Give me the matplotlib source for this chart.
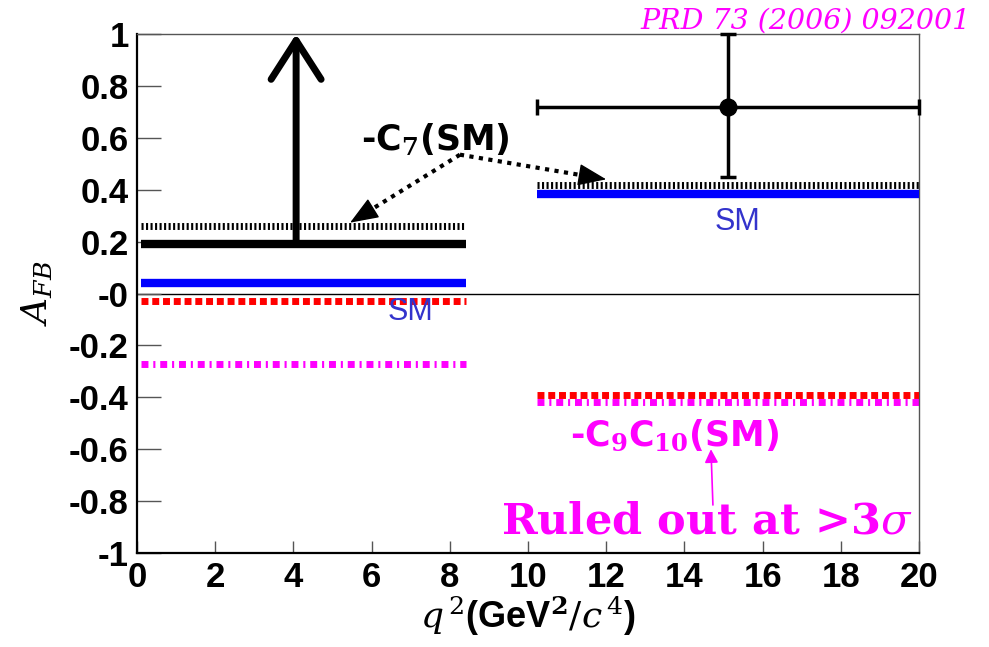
# A_FB in two q^2 bins: measurement vs. SM and flipped-sign Wilson coefficient predictions
import numpy as np
import matplotlib.pyplot as plt

plt.rcParams['mathtext.fontset'] = 'dejavuserif'

# q^2 bins (GeV^2/c^4)
bin_lo = [0.1, 10.24]
bin_hi = [8.41, 20.0]

# model predictions per bin
afb_sm = [0.04, 0.385]           # Standard Model
afb_c7 = [0.26, 0.42]            # -C7 (SM)
afb_c7c9c10 = [-0.03, -0.39]     # -C7 and -C9C10
afb_c9c10 = [-0.27, -0.42]       # -C9C10 (SM)

# measurement
low_limit_x = 4.07               # low bin: lower limit only
low_limit_y = 0.19
meas_x = 15.12                   # high bin
meas_y = 0.72
meas_err_lo = 0.27
meas_err_hi = 0.28

yticks = [1, 0.8, 0.6, 0.4, 0.2, 0, -0.2, -0.4, -0.6, -0.8, -1]
ytick_labels = ['1', '0.8', '0.6', '0.4', '0.2', '-0', '-0.2', '-0.4', '-0.6', '-0.8', '-1']
xticks = [0, 2, 4, 6, 8, 10, 12, 14, 16, 18, 20]

fig = plt.figure(figsize=(9.89, 6.47), dpi=100)
ax = fig.add_axes([0.1385, 0.1453, 0.7907, 0.8021])
ax.set_xlim(0, 20)
ax.set_ylim(-1, 1)

ax.axhline(0, color='black', lw=1.0, zorder=1)

for i in range(2):
    xs = [bin_lo[i], bin_hi[i]]
    ax.plot(xs, [afb_c9c10[i]] * 2, color='#ff00ff', lw=5,
            ls=(0, (1.0, 0.7, 0.3, 0.7)), solid_capstyle='butt', zorder=2)
    ax.plot(xs, [afb_c7c9c10[i]] * 2, color='#ff0000', lw=5,
            ls=(0, (1.0, 0.55)), solid_capstyle='butt', zorder=3)
    ax.plot(xs, [afb_sm[i]] * 2, color='#0000ff', lw=6, solid_capstyle='butt', zorder=3)
    ax.plot(xs, [afb_c7[i]] * 2, color='black', lw=5,
            ls=(0, (0.3, 0.35)), solid_capstyle='butt', zorder=3)

# low bin: lower limit with arrow
ax.plot([bin_lo[0], bin_hi[0]], [low_limit_y] * 2, color='black', lw=6,
        solid_capstyle='butt', zorder=4)
ax.annotate('', xy=(low_limit_x, 1.0), xytext=(low_limit_x, low_limit_y),
            arrowprops=dict(arrowstyle='->,head_length=0.7,head_width=0.45',
                            color='black', lw=5, mutation_scale=40,
                            shrinkA=0, shrinkB=0), annotation_clip=False, zorder=5)

# high bin measurement
half_w = (bin_hi[1] - bin_lo[1]) / 2
ax.errorbar(meas_x, meas_y, xerr=[[half_w], [half_w]], yerr=[[meas_err_lo], [meas_err_hi]],
            fmt='o', color='black', ms=12, elinewidth=2.5, capsize=6, capthick=2.5,
            zorder=5, clip_on=False)

# labels on the curves
ax.text(7.62, 0.593, r'-C$_{\mathbf{7}}$(SM)', fontsize=25, fontweight='bold',
        ha='center', va='center', family='DejaVu Sans')
tail = np.array([8.26, 0.535])
for tip, frac in [((5.45, 0.273), 0.84), ((12.0, 0.44), 0.86)]:
    tip = np.array(tip)
    mid = tail + frac * (tip - tail)
    ax.plot([tail[0], mid[0]], [tail[1], mid[1]], color='black', lw=3, ls=(0, (1, 1.3)))
    ax.annotate('', xy=tip, xytext=mid,
                arrowprops=dict(arrowstyle='-|>,head_length=0.9,head_width=0.35',
                                color='black', lw=1, mutation_scale=20,
                                shrinkA=0, shrinkB=0))

ax.text(7.0, -0.07, 'SM', color='#3333cc', fontsize=22, ha='center', va='center',
        family='Liberation Sans')
ax.text(15.37, 0.277, 'SM', color='#3333cc', fontsize=22, ha='center', va='center',
        family='Liberation Sans')

ax.text(13.76, -0.55, r'-C$_{\mathbf{9}}$C$_{\mathbf{10}}$(SM)', color='#ff00ff',
        fontsize=25, fontweight='bold', ha='center', va='center', family='DejaVu Sans')
ax.annotate('', xy=(14.68, -0.60), xytext=(14.73, -0.815),
            arrowprops=dict(arrowstyle='-|>', color='#ff00ff', lw=1.2,
                            mutation_scale=20, shrinkA=0, shrinkB=0))
ax.text(14.58, -0.88, r'Ruled out at >3$\sigma$', color='#ff00ff', fontsize=31,
        fontweight='bold', ha='center', va='center', family='DejaVu Serif')

fig.text(0.981, 0.967, 'PRD 73 (2006) 092001', color='#ff00ff', fontsize=20.5,
         style='italic', family='DejaVu Serif', ha='right', va='center')

# axes styling
ax.set_yticks(yticks)
ax.set_yticklabels(ytick_labels)
ax.set_xticks(xticks)
ax.tick_params(axis='y', direction='in', length=17, width=1, color='#555555', pad=6)
ax.tick_params(axis='x', direction='in', length=9, width=1, color='#555555', pad=6)
for lab in ax.get_xticklabels() + ax.get_yticklabels():
    lab.set_fontsize(25)
    lab.set_fontweight('bold')
    lab.set_family('Liberation Sans')

for side in ['left', 'bottom']:
    ax.spines[side].set_linewidth(1.6)
    ax.spines[side].set_color('black')
for side in ['top', 'right']:
    ax.spines[side].set_linewidth(1.0)
    ax.spines[side].set_color('#555555')

ax.set_xlabel(r'$q^{\,2}$(GeV$^{\mathbf{2}}$$/c^{\,4}$)', fontsize=26, fontweight='bold',
              family='Liberation Sans', labelpad=0)
ax.set_ylabel(r'$A_{FB}$', fontsize=26, labelpad=10)

fig.savefig('out.png', dpi=100)
